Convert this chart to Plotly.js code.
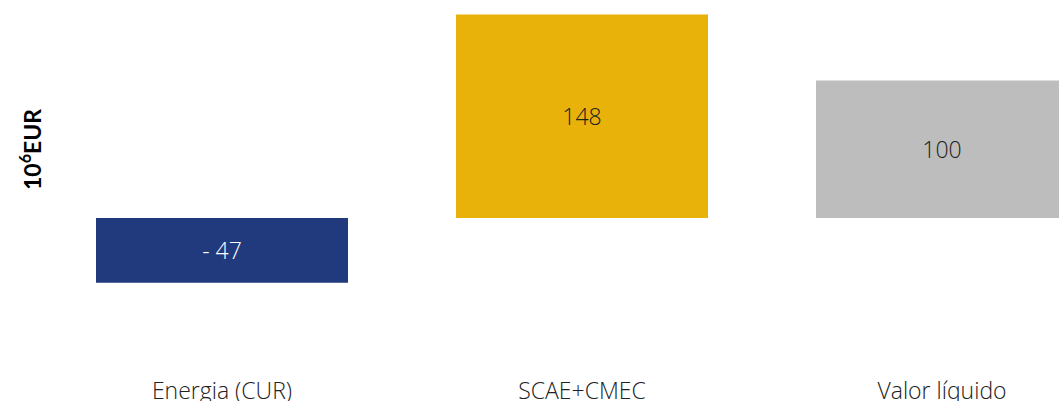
<!DOCTYPE html>
<html><head><meta charset="utf-8">
<script src="https://cdn.plot.ly/plotly-3.0.1.min.js"></script>
<style>html,body{margin:0;padding:0;background:#fff;}#chart{width:1059px;height:401px;}</style>
</head><body><div id="chart"></div>
<script>
var categories = ["Energia (CUR)", "SCAE+CMEC", "Valor líquido"];
var values = [-47, 148, 100];
var labels = ["- 47", "148", "100"];
var colors = ["#203A7D", "#E8B20A", "#BDBDBD"];
var labelColors = ["#FFFFFF", "#222222", "#222222"];

var trace = {
  type: "bar",
  x: categories,
  y: values,
  text: labels,
  texttemplate: "%{text}",
  textposition: "inside",
  insidetextanchor: "middle",
  textangle: 0,
  insidetextfont: {family: "Open Sans, sans-serif", size: 23, weight: 300, color: labelColors},
  marker: {color: colors, line: {width: 0}},
  width: 0.7,
  hoverinfo: "none"
};

var plotBottom = 375;
var layout = {
  width: 1059, height: 401,
  margin: {l: 42, r: 0, t: 0, b: 401 - plotBottom},
  paper_bgcolor: "#ffffff", plot_bgcolor: "#ffffff",
  showlegend: false,
  xaxis: {
    type: "category",
    range: [-0.5, -0.5 + 1017/360],
    showgrid: false, zeroline: false, showline: false, ticks: "",
    tickfont: {family: "Open Sans, sans-serif", size: 23, weight: 300, color: "#222222"}
  },
  yaxis: {
    range: [-(plotBottom-218)/1.375, 218/1.375],
    showgrid: false, zeroline: false, showline: false, showticklabels: false, ticks: ""
  },
  annotations: [{
    text: "<b>10<sup>6</sup>EUR</b>",
    xref: "paper", yref: "paper",
    x: (30-42)/1017, y: 1 - 150/plotBottom,
    xanchor: "center", yanchor: "middle",
    textangle: -90, showarrow: false,
    font: {family: "Lato, sans-serif", size: 23, color: "#000000"}
  }]
};

Plotly.newPlot("chart", [trace], layout, {staticPlot: true});
</script></body></html>
